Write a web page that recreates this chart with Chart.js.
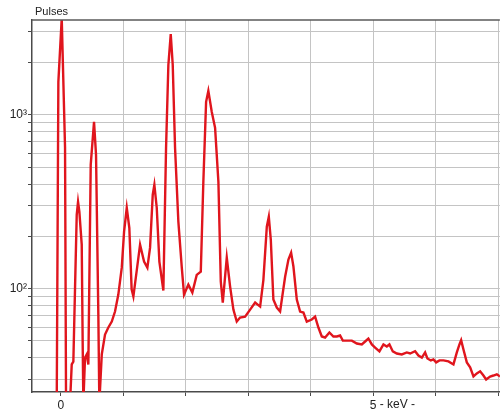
<!DOCTYPE html>
<html>
<head>
<meta charset="utf-8">
<script src="https://cdn.jsdelivr.net/npm/chart.js@4/dist/chart.umd.min.js"></script>
<style>
  html, body { margin: 0; padding: 0; background: #ffffff; }
  #wrap { width: 500px; height: 411px; }
</style>
</head>
<body>
<div id="wrap"><canvas id="c" width="500" height="411"></canvas></div>
<script>
// ---- data ----
const energyKeV = [-0.064,-0.038,0.016,0.069,0.085,0.149,0.176,0.202,0.229,0.256,0.277,0.298,0.336,0.352,0.362,0.389,0.416,0.442,0.480,0.533,0.565,0.602,0.618,0.657,0.709,0.762,0.817,0.869,0.922,0.977,1.014,1.057,1.098,1.135,1.163,1.270,1.334,1.387,1.430,1.473,1.499,1.537,1.579,1.643,1.686,1.723,1.761,1.793,1.830,1.883,1.938,1.974,2.043,2.107,2.177,2.242,2.283,2.327,2.363,2.418,2.471,2.524,2.562,2.594,2.658,2.711,2.764,2.818,2.871,2.951,3.032,3.112,3.192,3.244,3.299,3.331,3.363,3.404,3.459,3.512,3.592,3.645,3.688,3.725,3.779,3.832,3.885,3.939,4.019,4.072,4.125,4.179,4.232,4.301,4.365,4.420,4.472,4.516,4.580,4.660,4.740,4.820,4.873,4.925,4.980,5.033,5.102,5.166,5.220,5.262,5.316,5.380,5.460,5.540,5.593,5.673,5.726,5.781,5.833,5.870,5.925,5.966,6.010,6.063,6.127,6.207,6.287,6.341,6.383,6.410,6.447,6.501,6.554,6.607,6.661,6.714,6.767,6.810,6.874,6.927,6.981,7.034];
const pulses = [22,1549,3600,646,22,22,36.6,38,101,266,316,277,179,45.8,22,40.1,41.8,36.6,516,912,589,70.9,22,41.8,54.4,59.7,64.6,73.8,92.4,132,213,292,224,99,90,179,143,132,172,347,396,292,143,97.4,646,1938,2921,1938,646,243,132,92.4,105.4,94.8,120,125,412,1188,1374,1040,842,412,110,83.1,151,103,75.7,64.6,68.1,69,75.7,83.1,78.8,112,227,259,191,86.5,77.8,73.8,117,147,161,134,86.5,73.8,72.8,64.6,66.4,69,59.7,53,52.3,55.9,53,53,53.7,50.2,50.2,50.2,48.3,47.7,49.6,51.6,47.7,45.8,43.5,47.7,46.4,47.7,43.5,42.3,41.8,42.9,42.3,43.6,41.2,40.1,42.9,39.6,38.6,39.1,37.6,38.6,38.6,38.1,36.6,42.9,47.7,50.5,44.6,37.6,35.2,31.2,32.5,33.4,31.6,30,31.2,31.6,32.1,31.2];

const yGridTicks = [30,40,50,60,70,80,90,100,200,300,400,500,600,700,800,900,1000,2000,3000];
const yLabelTicks = [100, 1000];
const yLabelTexts = ['10\u00B2', '10\u00B3'];
const xTicks = [0,1,2,3,4,5,6,7];
const xLabelTicks = [0, 5];
const xLabelTexts = ['0', '5'];
const xUnitText = ' - keV -';
const yTitleText = 'Pulses';

const FONT = '"Liberation Sans", Arial, sans-serif';

const decorPlugin = {
  id: 'decor',
  afterDraw(chart) {
    const ctx = chart.ctx;
    const a = chart.chartArea;
    ctx.save();
    // top frame line
    ctx.strokeStyle = '#5a5a5a';
    ctx.lineWidth = 1.5;
    ctx.beginPath();
    ctx.moveTo(a.left, a.top);
    ctx.lineTo(a.right, a.top);
    ctx.stroke();
    // y title
    ctx.fillStyle = '#222';
    ctx.font = '11px ' + FONT;
    ctx.textAlign = 'left';
    ctx.textBaseline = 'middle';
    ctx.fillText(yTitleText, 35, 12);
    // unit after the "5" label
    ctx.font = '12px ' + FONT;
    const xs = chart.scales.x;
    const px = xs.getPixelForValue(5);
    const w = ctx.measureText('5').width;
    ctx.fillText(xUnitText, px + w / 2, 405);
    ctx.restore();
  }
};

new Chart(document.getElementById('c'), {
  type: 'line',
  data: {
    datasets: [{
      data: energyKeV.map((e, i) => ({ x: e, y: pulses[i] })),
      borderColor: '#e0151d',
      borderWidth: 2.4,
      pointRadius: 0,
      tension: 0,
      fill: false
    }]
  },
  options: {
    responsive: false,
    animation: false,
    devicePixelRatio: 1,
    layout: { padding: { top: 20, right: 0, left: 0, bottom: 0 } },
    plugins: { legend: { display: false }, tooltip: { enabled: false } },
    scales: {
      x: {
        type: 'linear',
        min: -0.46,
        max: 7.03,
        afterFit: s => { s.height = 19; },
        afterBuildTicks: s => { s.ticks = xTicks.map(v => ({ value: v })); },
        border: { color: '#4a4a4a', width: 1.5 },
        grid: {
          color: c => (c.tick && c.tick.value === 0) ? 'rgba(0,0,0,0)' : '#c4c4c4',
          lineWidth: 1,
          tickColor: '#4a4a4a',
          tickLength: 4,
          drawTicks: true
        },
        ticks: {
          autoSkip: false,
          maxRotation: 0,
          padding: 2,
          color: '#222',
          font: { family: FONT, size: 12 },
          callback: v => { const i = xLabelTicks.indexOf(v); return i >= 0 ? xLabelTexts[i] : ''; }
        }
      },
      y: {
        type: 'logarithmic',
        min: 25.4,
        max: 3516,
        afterFit: s => { s.width = 32; },
        afterBuildTicks: s => { s.ticks = yGridTicks.map(v => ({ value: v })); },
        border: { color: '#4a4a4a', width: 1.5 },
        grid: {
          color: '#c4c4c4',
          lineWidth: 1,
          tickColor: '#4a4a4a',
          tickLength: 4,
          drawTicks: true
        },
        ticks: {
          autoSkip: false,
          padding: 1,
          color: '#222',
          font: { family: FONT, size: 12 },
          callback: v => { const i = yLabelTicks.indexOf(v); return i >= 0 ? yLabelTexts[i] : ''; }
        }
      }
    }
  },
  plugins: [decorPlugin]
});
</script>
</body>
</html>
